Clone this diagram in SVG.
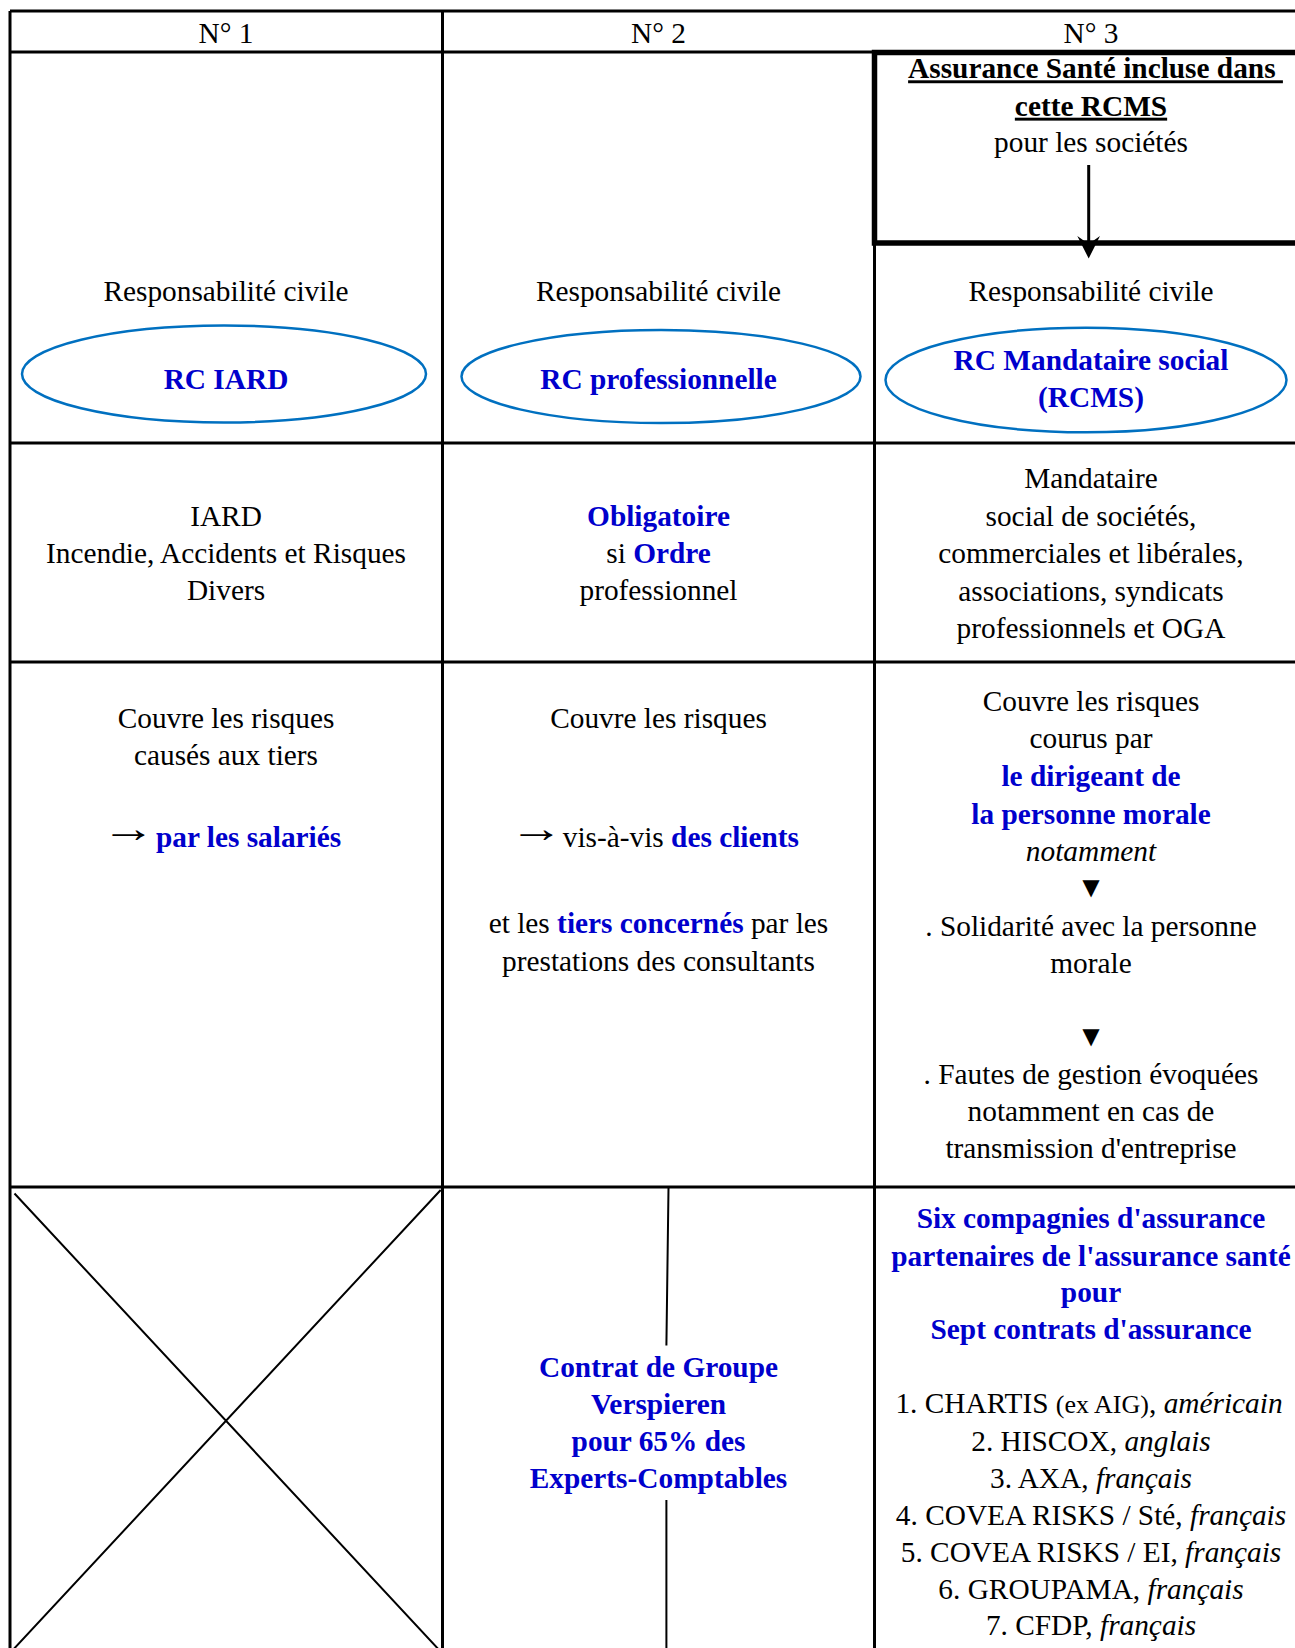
<svg xmlns="http://www.w3.org/2000/svg" width="1295" height="1648" viewBox="0 0 1295 1648">
<style>
.t{font-family:"Liberation Serif","Times New Roman",serif;font-size:29.33px;fill:#000;text-anchor:middle}
.s{text-anchor:start}
.e{text-anchor:end}
.ar{font-size:40px}
.b{font-weight:bold;fill:#0000CC}
.bk{font-weight:bold;fill:#000}
.i{font-style:italic}
.sm{font-size:26px}
.grid{stroke:#000;stroke-width:3;fill:none}
.thin{stroke:#000;stroke-width:2;fill:none}
.ell{fill:#fff;stroke:#0070C0;stroke-width:2.5}
</style>
<rect width="1295" height="1648" fill="#fff"/>
<g id="grid">
<path class="grid" d="M10,11V1648M442.5,11V1648M874.5,243V1648M10,11H1295M10,52H874.5M10,443H1295M10,662H1295M10,1187H1295"/>
<path d="M1300,52.5H874.5V243H1300" fill="none" stroke="#000" stroke-width="5.5"/>
</g>
<g id="header">
<text class="t" x="226" y="42.7">N° 1</text>
<text class="t" x="658.5" y="42.7">N° 2</text>
<text class="t" x="1091" y="42.7">N° 3</text>
</g>
<g id="sante">
<text class="t bk" x="1095.5" y="78.3" text-decoration="underline">Assurance Santé incluse dans&#160;</text>
<text class="t bk" x="1091" y="115.7" text-decoration="underline">cette RCMS</text>
<text class="t" x="1091" y="151.7">pour les sociétés</text>
</g>
<g id="rc-iard">
<text class="t" x="226" y="300.7">Responsabilité civile</text>
<ellipse class="ell" cx="224" cy="374" rx="202" ry="48.5"/>
<text class="t b" x="226" y="389">RC IARD</text>
</g>
<g id="rc-pro">
<text class="t" x="658.5" y="300.7">Responsabilité civile</text>
<ellipse class="ell" cx="661" cy="376.5" rx="199.5" ry="46.5"/>
<text class="t b" x="658.5" y="389">RC professionnelle</text>
</g>
<g id="rcms">
<text class="t" x="1091" y="300.7">Responsabilité civile</text>
<ellipse class="ell" cx="1086" cy="380" rx="200.5" ry="52.3"/>
<text class="t b" x="1091" y="370">RC Mandataire social</text>
<text class="t b" x="1091" y="406.5">(RCMS)</text>
</g>
<g id="iard-def">
<text class="t" x="226" y="525.7">IARD</text>
<text class="t" x="226" y="563">Incendie, Accidents et Risques</text>
<text class="t" x="226" y="600">Divers</text>
</g>
<g id="pro-def">
<text class="t b" x="658.5" y="525.7">Obligatoire</text>
<text class="t" x="658.5" y="563">si <tspan class="b">Ordre</tspan></text>
<text class="t" x="658.5" y="600">professionnel</text>
</g>
<g id="rcms-def">
<text class="t" x="1091" y="488.2">Mandataire</text>
<text class="t" x="1091" y="525.7">social de sociétés,</text>
<text class="t" x="1091" y="563">commerciales et libérales,</text>
<text class="t" x="1091" y="600.5">associations, syndicats</text>
<text class="t" x="1091" y="637.5">professionnels et OGA</text>
</g>
<g id="iard-risques">
<text class="t" x="226" y="727.5">Couvre les risques</text>
<text class="t" x="226" y="765">causés aux tiers</text>
<text class="t ar" transform="translate(128.4,841.5) scale(1.35,1)" x="0" y="0">→</text>
<text class="t s b" x="156" y="847">par les salariés</text>
</g>
<g id="pro-risques">
<text class="t" x="658.5" y="727.5">Couvre les risques</text>
<text class="t ar" transform="translate(536.5,841.5) scale(1.35,1)" x="0" y="0">→</text>
<text class="t e" x="799" y="847">vis-à-vis <tspan class="b">des clients</tspan></text>
<text class="t" x="658.5" y="933">et les <tspan class="b">tiers concernés</tspan> par les</text>
<text class="t" x="658.5" y="970.5">prestations des consultants</text>
</g>
<g id="rcms-risques">
<text class="t" x="1091" y="711.4">Couvre les risques</text>
<text class="t" x="1091" y="748">courus par</text>
<text class="t b" x="1091" y="786">le dirigeant de</text>
<text class="t b" x="1091" y="823.5">la personne morale</text>
<text class="t i" x="1091" y="860.7">notamment</text>
<text class="t" x="1091" y="897">▼</text>
<text class="t" x="1091" y="935.5">. Solidarité avec la personne</text>
<text class="t" x="1091" y="972.5">morale</text>
<text class="t" x="1091" y="1045.5">▼</text>
<text class="t" x="1091" y="1084">. Fautes de gestion évoquées</text>
<text class="t" x="1091" y="1121">notamment en cas de</text>
<text class="t" x="1091" y="1158">transmission d'entreprise</text>
</g>
<g id="iard-vide">
<path class="thin" d="M14.5,1193.5L455,1667M440.7,1190L-3,1667"/>
</g>
<g id="groupe">
<path class="thin" d="M668.5,1188L666.4,1345.5M666.4,1500V1648"/>
<text class="t b" x="658.5" y="1377">Contrat de Groupe</text>
<text class="t b" x="658.5" y="1414">Verspieren</text>
<text class="t b" x="658.5" y="1451">pour 65% des</text>
<text class="t b" x="658.5" y="1487.5">Experts-Comptables</text>
</g>
<g id="compagnies">
<text class="t b" x="1091" y="1228.4">Six compagnies d'assurance</text>
<text class="t b" x="1091" y="1265.7">partenaires de l'assurance santé</text>
<text class="t b" x="1091" y="1302">pour</text>
<text class="t b" x="1091" y="1339">Sept contrats d'assurance</text>
<text class="t" x="1089" y="1413">1. CHARTIS <tspan class="sm">(ex AIG)</tspan>, <tspan class="i">américain</tspan></text>
<text class="t" x="1091" y="1450.8">2. HISCOX, <tspan class="i">anglais</tspan></text>
<text class="t" x="1091" y="1487.5">3. AXA, <tspan class="i">français</tspan></text>
<text class="t" x="1091" y="1525">4. COVEA RISKS / Sté, <tspan class="i">français</tspan></text>
<text class="t" x="1091" y="1561.5">5. COVEA RISKS / EI, <tspan class="i">français</tspan></text>
<text class="t" x="1091" y="1598.5">6. GROUPAMA, <tspan class="i">français</tspan></text>
<text class="t" x="1091" y="1635">7. CFDP, <tspan class="i">français</tspan></text>
</g>
<g id="connectors">
<path d="M1088.7,165V246" stroke="#000" stroke-width="3" fill="none"/>
<path d="M1088.7,258.5L1077.3,236L1088.7,244L1100,236Z" fill="#000"/>
</g>
</svg>
